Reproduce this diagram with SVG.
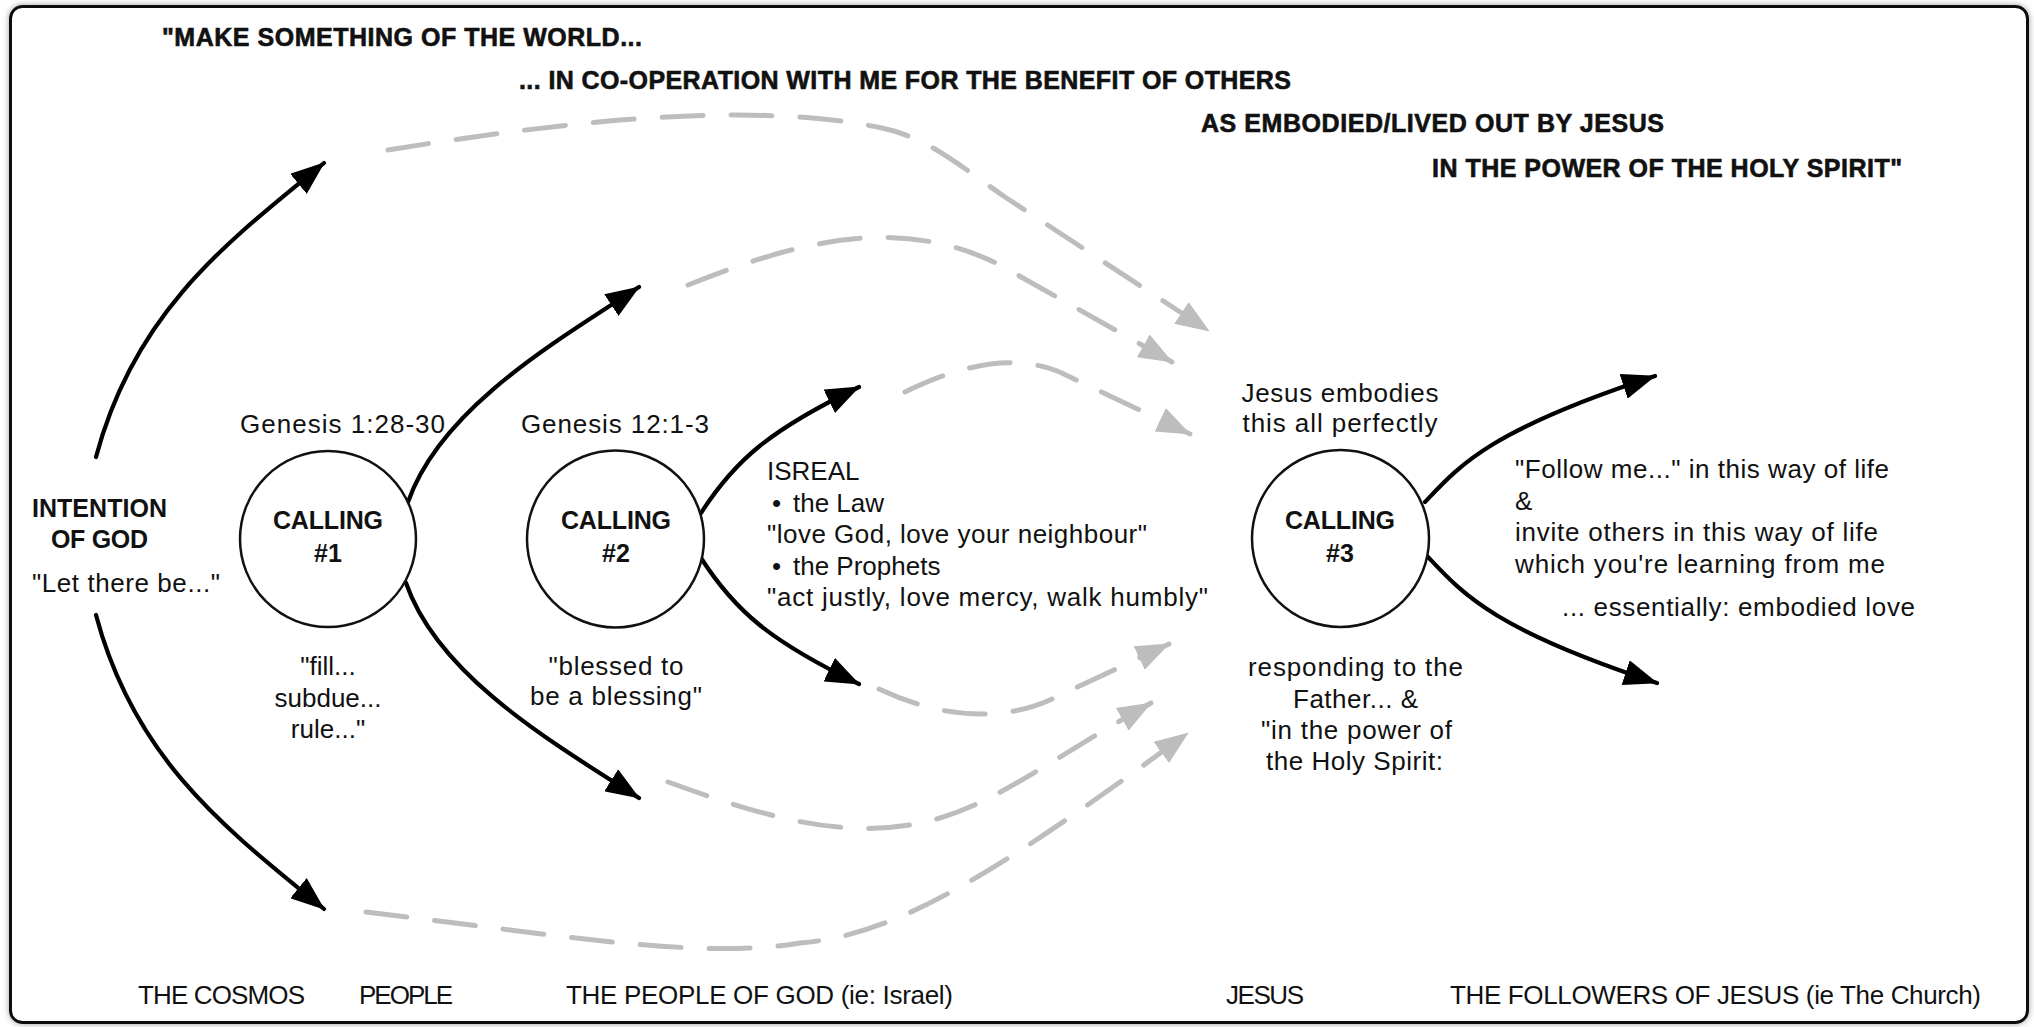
<svg xmlns="http://www.w3.org/2000/svg" width="2034" height="1027" viewBox="0 0 2034 1027">
<style>
text{font-family:"Liberation Sans",Arial,sans-serif;font-size:26px;fill:#111}
.b{font-weight:bold;font-size:25px}
.t{stroke:#111;stroke-width:0.6}
.c{text-anchor:middle}
.node{fill:#fff;stroke:#111;stroke-width:2.5}
.arr{fill:none;stroke:#000;stroke-width:4.2;stroke-linecap:round;marker-end:url(#ab)}
.dash{fill:none;stroke:#bdbdbd;stroke-width:5;stroke-linecap:round;stroke-dasharray:41 28;marker-end:url(#ag)}
</style>
<defs>
<marker id="ab" markerUnits="userSpaceOnUse" markerWidth="34" markerHeight="26" viewBox="0 0 34 26" refX="33" refY="13" orient="auto"><path d="M0,0L34,13L0,26z" fill="#000"/></marker>
<marker id="ag" markerUnits="userSpaceOnUse" markerWidth="34" markerHeight="26" viewBox="0 0 34 26" refX="33" refY="13" orient="auto"><path d="M0,0L34,13L0,26z" fill="#bdbdbd"/></marker>
<filter id="sh" x="-5%" y="-5%" width="110%" height="110%"><feDropShadow dx="0" dy="0" stdDeviation="3" flood-color="#777" flood-opacity="0.7"/></filter>
</defs>
<rect x="0" y="0" width="2034" height="1027" fill="#fff"/>
<rect x="10.5" y="6.5" width="2017" height="1016" rx="12" fill="#fff" stroke="#111" stroke-width="3" filter="url(#sh)"/>

<g id="titles">
<text class="b t" x="162" y="46" textLength="480">"MAKE SOMETHING OF THE WORLD...</text>
<text class="b t" x="519" y="89" textLength="772">... IN CO-OPERATION WITH ME FOR THE BENEFIT OF OTHERS</text>
<text class="b t" x="1201" y="132" textLength="463">AS EMBODIED/LIVED OUT BY JESUS</text>
<text class="b t" x="1432" y="177" textLength="470">IN THE POWER OF THE HOLY SPIRIT"</text>
</g>

<g id="connectors">
<path class="dash" d="M388,150 C560,122 750,100 882,128 C930,138 965,170 1005,197 L1209,331"/>
<path class="dash" d="M688,285 C800,240 900,215 1000,265 L1172,362"/>
<path class="dash" d="M905,392 C960,365 1020,350 1070,377 L1190,434"/>
<path class="dash" d="M879,689 C940,718 1000,722 1050,700 L1169,644"/>
<path class="dash" d="M668,782 C760,815 850,845 940,818 C1000,800 1050,760 1151,703"/>
<path class="dash" d="M366,912 C560,935 700,960 800,943 C900,935 1000,870 1188,733"/>
<path class="arr" d="M96,457 C135,310 230,240 324,163"/>
<path class="arr" d="M96,615 C135,762 230,832 324,909"/>
<path class="arr" d="M408,502 C440,410 550,345 639,287"/>
<path class="arr" d="M406,583 C438,675 548,740 639,798"/>
<path class="arr" d="M701,513 C735,460 770,430 859,387"/>
<path class="arr" d="M701,558 C735,611 770,641 859,684"/>
<path class="arr" d="M1425,502 C1460,465 1490,430 1655,376"/>
<path class="arr" d="M1428,557 C1463,594 1493,629 1657,683"/>
</g>

<g id="intention">
<text class="b c" x="99.5" y="517" textLength="135">INTENTION</text>
<text class="b c" x="99.5" y="548" textLength="97">OF GOD</text>
<text x="32" y="592" textLength="188">"Let there be..."</text>
</g>

<g id="calling1">
<circle class="node" cx="328" cy="539" r="88"/>
<text class="b c" x="328" y="529" textLength="110">CALLING</text>
<text class="b c" x="328" y="562">#1</text>
<text x="240" y="433" textLength="205">Genesis 1:28-30</text>
<text class="c" x="328" y="675">"fill...</text>
<text class="c" x="328" y="707">subdue...</text>
<text class="c" x="328" y="738">rule..."</text>
</g>

<g id="calling2">
<circle class="node" cx="615.5" cy="539" r="88.5"/>
<text class="b c" x="616" y="529" textLength="110">CALLING</text>
<text class="b c" x="616" y="562">#2</text>
<text x="521" y="433" textLength="188">Genesis 12:1-3</text>
<text class="c" x="616" y="675" textLength="135">"blessed to</text>
<text class="c" x="616" y="705" textLength="172">be a blessing"</text>
</g>

<g id="israel">
<text x="767" y="480">ISREAL</text>
<text y="511.5"><tspan x="772">•</tspan><tspan x="793">the Law</tspan></text>
<text x="767" y="543" textLength="380">"love God, love your neighbour"</text>
<text y="574.5"><tspan x="772">•</tspan><tspan x="793">the Prophets</tspan></text>
<text x="767" y="606" textLength="441">"act justly, love mercy, walk humbly"</text>
</g>

<g id="calling3">
<circle class="node" cx="1340.5" cy="538.5" r="88.5"/>
<text class="b c" x="1340" y="529" textLength="110">CALLING</text>
<text class="b c" x="1340" y="562">#3</text>
<text class="c" x="1340" y="402" textLength="197">Jesus embodies</text>
<text class="c" x="1340" y="432" textLength="195">this all perfectly</text>
<text class="c" x="1355.5" y="676" textLength="215">responding to the</text>
<text class="c" x="1355.5" y="708" textLength="125">Father... &amp;</text>
<text class="c" x="1356.5" y="739" textLength="191">"in the power of</text>
<text class="c" x="1354.5" y="770" textLength="177">the Holy Spirit:</text>
</g>

<g id="followers-text">
<text x="1515" y="478" textLength="374">"Follow me..." in this way of life</text>
<text x="1515" y="509.5">&amp;</text>
<text x="1515" y="541" textLength="363">invite others in this way of life</text>
<text x="1515" y="572.5" textLength="370">which you're learning from me</text>
<text x="1562" y="616" textLength="353">... essentially: embodied love</text>
</g>

<g id="bottom-labels">
<text x="138" y="1004" textLength="167">THE COSMOS</text>
<text x="359" y="1004" textLength="94">PEOPLE</text>
<text x="566" y="1004" textLength="387">THE PEOPLE OF GOD (ie: Israel)</text>
<text x="1226" y="1004" textLength="78">JESUS</text>
<text x="1450" y="1004" textLength="531">THE FOLLOWERS OF JESUS (ie The Church)</text>
</g>
</svg>
